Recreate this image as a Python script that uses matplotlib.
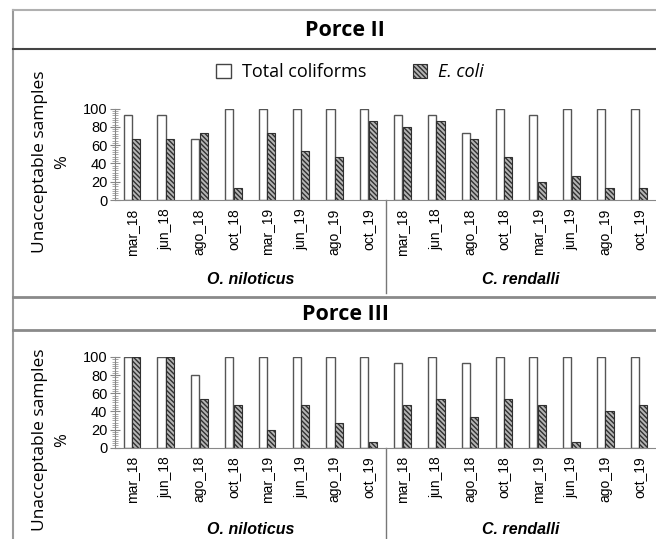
import matplotlib
matplotlib.use("Agg")
import matplotlib.pyplot as plt
from matplotlib.patches import Patch
from matplotlib.lines import Line2D
from matplotlib.ticker import MultipleLocator
from matplotlib.transforms import blended_transform_factory
import numpy as np

# sampling months, repeated for each fish species
months = ["mar_18", "jun_18", "ago_18", "oct_18", "mar_19", "jun_19", "ago_19", "oct_19"]
species = ["O. niloticus", "C. rendalli"]

# Porce II (% unacceptable samples), O. niloticus then C. rendalli
p2_total = [93.3, 93.3, 66.7, 100, 100, 100, 100, 100,
            93.3, 93.3, 73.3, 100, 93.3, 100, 100, 100]
p2_ecoli = [66.7, 66.7, 73.3, 13.3, 73.3, 53.3, 46.7, 86.7,
            80.0, 86.7, 66.7, 46.7, 20.0, 26.7, 13.3, 13.3]

# Porce III
p3_total = [100, 100, 80, 100, 100, 100, 100, 100,
            93.3, 100, 93.3, 100, 100, 100, 100, 100]
p3_ecoli = [100, 100, 53.3, 46.7, 20.0, 46.7, 26.7, 6.7,
            46.7, 53.3, 33.3, 53.3, 46.7, 6.7, 40.0, 46.7]

W, H = 656, 539
plt.rcParams['hatch.linewidth'] = 1.0
fig = plt.figure(figsize=(W / 100, H / 100), dpi=100)

def fx(px):
    return px / W

def fy(py):
    return 1 - py / H

# frame lines of the panel layout
frame = [((13, 13), (10, 539), '#9a9a9a', 1.5),
         ((13, 656), (10, 10), '#b0b0b0', 1.5),
         ((13, 656), (49, 49), '#444444', 1.5),
         ((13, 656), (297, 297), '#8a8a8a', 2.0),
         ((13, 656), (330, 330), '#8a8a8a', 2.0)]
for xs, ys, c, lw in frame:
    fig.add_artist(Line2D([fx(xs[0]), fx(xs[1])], [fy(ys[0]), fy(ys[1])],
                          color=c, lw=lw, transform=fig.transFigure))

title_font = dict(family="Open Sans", fontsize=15.5, fontweight="bold")
fig.text(fx(345), fy(30), "Porce II", ha="center", va="center", **title_font)
fig.text(fx(345), fy(314), "Porce III", ha="center", va="center", **title_font)

labels = months * 2
x = np.arange(len(labels))
bw = 0.24
ec_hatch = "\\\\\\\\\\\\\\"

def draw_panel(top_px, base_px, total, ecoli, group_y_px):
    ax = fig.add_axes([fx(115), fy(base_px), 1 - fx(115), (base_px - top_px) / H])
    ax.bar(x - 0.125, total, bw, facecolor="white", edgecolor="#555555", lw=1.0)
    ax.bar(x + 0.125, ecoli, bw, facecolor="#b5b5b5", edgecolor="#303030",
           lw=0.8, hatch=ec_hatch)
    ax.set_xlim(-0.5, 15.5)
    ax.set_ylim(0, 100)
    ax.yaxis.set_major_locator(MultipleLocator(20))
    ax.yaxis.set_minor_locator(MultipleLocator(2.5))
    ax.set_xticks(x)
    ax.set_xticklabels(labels, rotation=90, family="Liberation Sans", fontsize=10)
    ax.tick_params(axis="x", length=0, pad=6)
    ax.tick_params(axis="y", which="major", direction="inout", length=7,
                   color="#888888", labelsize=10.5, pad=2)
    ax.tick_params(axis="y", which="minor", direction="inout", length=4,
                   color="#999999")
    for t in ax.get_yticklabels():
        t.set_family("Liberation Sans")
    for s in ["top", "right"]:
        ax.spines[s].set_visible(False)
    for s in ["left", "bottom"]:
        ax.spines[s].set_color("#888888")
    # separator between the two species groups
    ax.plot([7.5, 7.5], [0, -1.02], color="#777777", lw=1.0,
            transform=ax.get_xaxis_transform(), clip_on=False)
    trans = blended_transform_factory(ax.transData, fig.transFigure)
    for i, sp in enumerate(species):
        ax.text(3.5 + 8 * i, fy(group_y_px), sp, ha="center", va="center",
                family="Liberation Sans", fontsize=11.5, fontweight="bold",
                style="italic", transform=trans)
    return ax

ax2 = draw_panel(108.6, 200, p2_total, p2_ecoli, 279)
ax3 = draw_panel(357, 447.7, p3_total, p3_ecoli, 530)

# y labels
for ymid in (162, 440):
    fig.text(fx(40), fy(ymid), "Unacceptable samples", rotation=90, ha="center",
             va="center", family="Open Sans", fontsize=12.5)
    fig.text(fx(62), fy(ymid), "%", rotation=90, ha="center", va="center",
             family="Open Sans", fontsize=12)

handles = [Patch(facecolor="white", edgecolor="#444444", lw=1.0),
           Patch(facecolor="#b5b5b5", edgecolor="#303030", lw=0.8, hatch=ec_hatch)]
leg = fig.legend(handles, ["Total coliforms", "E. coli"], ncol=2, loc="center",
                 bbox_to_anchor=(fx(350), fy(72)), frameon=False,
                 handlelength=0.8, handleheight=0.8, handletextpad=0.6,
                 columnspacing=2.6, prop=dict(family="Open Sans", size=13))
leg.get_texts()[1].set_style("italic")

fig.savefig("out.png", dpi=100)
